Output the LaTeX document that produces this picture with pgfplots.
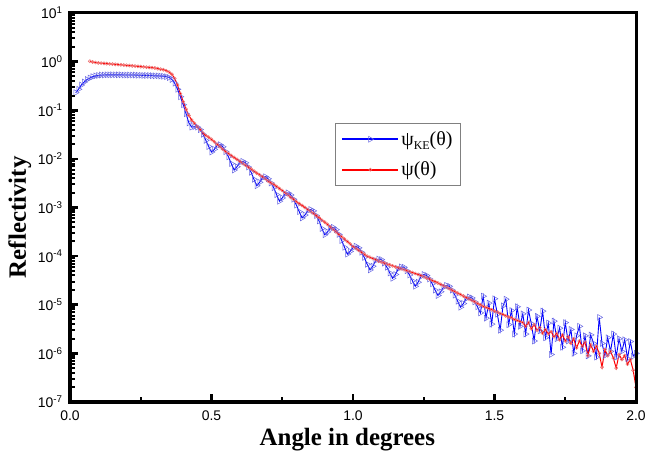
\documentclass[border=0pt]{standalone}
\usepackage{fontspec}
\setmainfont{Liberation Serif}
\newfontfamily\arial{Liberation Sans}
\usepackage{pgfplots}
\pgfplotsset{compat=1.18}
\definecolor{bmark}{RGB}{100,100,225}
\definecolor{rmark}{RGB}{235,110,110}
\begin{document}
\begin{tikzpicture}
\begin{axis}[
 at={(0,0)}, anchor=south west,
 scale only axis, width=566bp, height=389bp,
 xmin=0, xmax=2, ymin=1e-7, ymax=10, ymode=log,
 tick pos=left, tick align=inside,
 xtick={0,0.5,1,1.5,2}, xticklabels={0.0,0.5,1.0,1.5,2.0},
 ytick={1e-7,1e-6,1e-5,1e-4,1e-3,1e-2,1e-1,1,10},
 yticklabels={10\textsuperscript{-7},10\textsuperscript{-6},10\textsuperscript{-5},10\textsuperscript{-4},10\textsuperscript{-3},10\textsuperscript{-2},10\textsuperscript{-1},10\textsuperscript{0},10\textsuperscript{1}},
 major tick length=0bp, minor tick length=0bp,
 ticklabel style={font=\arial\fontsize{14}{16}\selectfont},
 xticklabel style={yshift=-5bp},
 yticklabel style={xshift=-4bp},
 xlabel={Angle in degrees}, ylabel={Reflectivity},
 label style={font=\bfseries\fontsize{25}{29}\selectfont},
 xlabel style={at={(axis description cs:0.49,-0.113)}, anchor=base},
 ylabel style={at={(axis description cs:-0.078,0.475)}, anchor=base},
 legend style={at={(axis description cs:0.468,0.717)}, anchor=north west, draw=gray, line width=0.9bp, font=\fontsize{20}{23}\selectfont, inner xsep=6bp, inner ysep=6bp, row sep=11bp},
 legend cell align=left,
 legend image code/.code={\draw[mark repeat=2,mark phase=2,line width=2bp] plot coordinates {(0bp,0bp)(28bp,0bp)(56bp,0bp)};},
]
\addplot[blue, line width=0.9bp, mark=triangle, mark size=3.4bp, mark options={rotate=-90, draw=bmark, fill=none, line width=0.5bp, solid}] coordinates {
(0.02,0.23)(0.03,0.27)(0.04,0.33)(0.05,0.38)(0.06,0.43)(0.07,0.46)(0.08,0.49)(0.09,0.51)(0.10,0.52)(0.11,0.53)(0.12,0.53)(0.13,0.535)(0.14,0.535)(0.15,0.535)(0.16,0.535)(0.17,0.535)(0.18,0.535)(0.19,0.53)(0.20,0.53)(0.21,0.53)(0.22,0.53)(0.23,0.53)(0.24,0.525)(0.25,0.525)(0.26,0.52)(0.27,0.52)(0.28,0.52)(0.29,0.515)(0.30,0.51)(0.31,0.51)(0.32,0.505)(0.33,0.50)(0.34,0.49)(0.35,0.47)(0.36,0.43)(0.37,0.36)(0.38,0.27)(0.39,0.19)(0.40,0.13)(0.41,0.085)(0.42,0.055)(0.43,0.045)(0.44,0.046)(0.45,0.045)(0.46,0.040)(0.47,0.032)(0.48,0.024)(0.49,0.018)
(0.50,0.0138)(0.51,0.0157)(0.52,0.019)(0.53,0.0196)(0.54,0.0177)(0.55,0.0141)(0.56,0.011)(0.57,0.008)(0.58,0.0059)(0.59,0.0069)(0.60,0.0085)(0.61,0.0089)(0.62,0.0083)(0.63,0.0068)(0.64,0.0053)(0.65,0.0038)(0.66,0.0028)(0.67,0.0033)(0.68,0.0041)(0.69,0.0043)(0.70,0.0039)(0.71,0.0032)(0.72,0.00255)(0.73,0.00184)(0.74,0.00135)(0.75,0.00157)(0.76,0.0019)(0.77,0.0020)(0.78,0.00181)(0.79,0.00148)(0.80,0.00112)(0.81,8.2e-4)(0.82,6.1e-4)(0.83,7.0e-4)(0.84,8.6e-4)(0.85,9.1e-4)(0.86,8.5e-4)(0.87,6.8e-4)(0.88,5.3e-4)(0.89,3.7e-4)(0.90,2.75e-4)(0.91,3.15e-4)(0.92,3.8e-4)(0.93,3.9e-4)(0.94,3.5e-4)(0.95,2.8e-4)(0.96,2.1e-4)(0.97,1.52e-4)(0.98,1.1e-4)(0.99,1.25e-4)
(1.00,1.5e-4)(1.01,1.6e-4)(1.02,1.48e-4)(1.03,1.2e-4)(1.04,9.4e-5)(1.05,6.8e-5)(1.06,5.2e-5)(1.07,6.2e-5)(1.08,8.1e-5)(1.09,8.7e-5)(1.10,8.5e-5)(1.11,7.2e-5)(1.12,5.9e-5)(1.13,4.5e-5)(1.14,3.5e-5)(1.15,4.2e-5)(1.16,5.5e-5)(1.17,6.0e-5)(1.18,5.9e-5)(1.19,5.0e-5)(1.20,4.1e-5)(1.21,3.1e-5)(1.22,2.4e-5)(1.23,2.9e-5)(1.24,3.8e-5)(1.25,4.2e-5)(1.26,4.0e-5)(1.27,3.4e-5)(1.28,2.7e-5)(1.29,2.0e-5)(1.30,1.55e-5)(1.31,1.85e-5)(1.32,2.3e-5)(1.33,2.5e-5)(1.34,2.4e-5)(1.35,2.0e-5)(1.36,1.58e-5)(1.37,1.18e-5)(1.38,8.9e-6)(1.39,1.06e-5)(1.40,1.34e-5)(1.41,1.45e-5)(1.42,1.38e-5)(1.43,1.15e-5)(1.44,9.1e-6)(1.45,6.8e-6)
(1.46,1.5e-5)(1.47,5.3e-6)(1.48,1.08e-5)(1.49,4.0e-6)(1.50,1.33e-5)(1.51,6.4e-6)(1.52,3.0e-6)(1.53,9.5e-6)(1.54,1.3e-5)(1.55,3.9e-6)(1.56,7.6e-6)(1.57,2.5e-6)(1.58,9.1e-6)(1.59,3.6e-6)(1.60,6.5e-6)(1.61,2.5e-6)(1.62,7.8e-6)(1.63,4.1e-6)(1.64,1.8e-6)(1.65,5.8e-6)(1.66,2.9e-6)(1.67,7.4e-6)(1.68,2.1e-6)(1.69,4.2e-6)(1.70,9.5e-7)(1.71,4.6e-6)(1.72,2.0e-6)(1.73,3.3e-6)(1.74,1.34e-6)(1.75,4.3e-6)(1.76,1.8e-6)(1.77,3.1e-6)(1.78,1.0e-6)(1.79,2.3e-6)(1.80,3.6e-6)(1.81,1.13e-6)(1.82,2.3e-6)(1.83,8.9e-7)(1.84,2.4e-6)(1.85,1.6e-6)(1.86,8.4e-7)(1.87,5.5e-6)(1.88,1.6e-6)(1.89,9.0e-7)(1.90,2.1e-6)(1.91,1.1e-6)(1.92,2.5e-6)(1.93,8.4e-7)(1.94,2.0e-6)(1.95,1.1e-6)(1.96,1.9e-6)(1.97,7.8e-7)(1.98,1.75e-6)(1.99,8.8e-7)(2.00,1.0e-6)
};
\addlegendentry{ψ\raisebox{-0.45ex}{\fontsize{12}{13}\selectfont KE}(θ)}
\addplot[red, line width=1bp, mark=o, mark size=1.6bp, mark options={draw=rmark, fill=white, line width=0.5bp, solid}] coordinates {
(0.07,1.02)(0.08,0.98)(0.09,0.96)(0.10,0.94)(0.11,0.93)(0.12,0.92)(0.13,0.91)(0.14,0.90)(0.15,0.89)(0.16,0.88)(0.17,0.87)(0.18,0.86)(0.19,0.85)(0.20,0.84)(0.21,0.83)(0.22,0.82)(0.23,0.81)(0.24,0.80)(0.25,0.79)(0.26,0.78)(0.27,0.77)(0.28,0.76)(0.29,0.75)(0.30,0.74)(0.31,0.72)(0.32,0.70)(0.33,0.68)(0.34,0.65)(0.35,0.61)(0.36,0.55)(0.37,0.45)(0.38,0.33)(0.39,0.22)(0.40,0.15)(0.41,0.105)(0.42,0.078)(0.43,0.063)(0.44,0.054)(0.45,0.046)(0.46,0.040)(0.47,0.034)(0.48,0.030)(0.49,0.028)
(0.50,0.0251)(0.51,0.0224)(0.52,0.020)(0.53,0.0178)(0.54,0.0158)(0.55,0.0141)(0.56,0.0129)(0.57,0.0117)(0.58,0.0107)(0.59,0.0098)(0.60,0.0089)(0.61,0.0081)(0.62,0.0074)(0.63,0.0068)(0.64,0.0062)(0.65,0.0056)(0.66,0.0051)(0.67,0.0047)(0.68,0.0043)(0.69,0.0039)(0.70,0.0035)(0.71,0.0032)(0.72,0.0030)(0.73,0.0027)(0.74,0.00245)(0.75,0.00224)(0.76,0.0020)(0.77,0.00182)(0.78,0.00162)(0.79,0.00148)(0.80,0.00132)(0.81,0.0012)(0.82,0.0011)(0.83,0.0010)(0.84,9.1e-4)(0.85,8.3e-4)(0.86,7.6e-4)(0.87,6.8e-4)(0.88,6.2e-4)(0.89,5.5e-4)(0.90,5.0e-4)(0.91,4.5e-4)(0.92,4.0e-4)(0.93,3.55e-4)(0.94,3.16e-4)(0.95,2.8e-4)(0.96,2.5e-4)(0.97,2.24e-4)(0.98,2.0e-4)(0.99,1.78e-4)
(1.00,1.58e-4)(1.01,1.45e-4)(1.02,1.32e-4)(1.03,1.2e-4)(1.04,1.1e-4)(1.05,1.0e-4)(1.06,9.5e-5)(1.07,8.9e-5)(1.08,8.5e-5)(1.09,7.9e-5)(1.10,7.6e-5)(1.11,7.2e-5)(1.12,6.9e-5)(1.13,6.6e-5)(1.14,6.3e-5)(1.15,6.0e-5)(1.16,5.75e-5)(1.17,5.5e-5)(1.18,5.25e-5)(1.19,5.0e-5)(1.20,4.8e-5)(1.21,4.6e-5)(1.22,4.4e-5)(1.23,4.2e-5)(1.24,4.0e-5)(1.25,3.8e-5)(1.26,3.55e-5)(1.27,3.4e-5)(1.28,3.16e-5)(1.29,3.0e-5)(1.30,2.8e-5)(1.31,2.63e-5)(1.32,2.45e-5)(1.33,2.3e-5)(1.34,2.14e-5)(1.35,2.0e-5)(1.36,1.86e-5)(1.37,1.74e-5)(1.38,1.62e-5)(1.39,1.51e-5)(1.40,1.41e-5)(1.41,1.32e-5)(1.42,1.23e-5)(1.43,1.15e-5)(1.44,1.07e-5)(1.45,1.0e-5)(1.46,9.3e-6)(1.47,8.9e-6)(1.48,8.3e-6)(1.49,7.9e-6)
(1.50,7.4e-6)(1.51,7.1e-6)(1.52,6.6e-6)(1.53,6.3e-6)(1.54,5.9e-6)(1.55,5.6e-6)(1.56,5.4e-6)(1.57,5.0e-6)(1.58,4.8e-6)(1.59,4.5e-6)(1.60,4.3e-6)(1.61,3.6e-6)(1.62,4.3e-6)(1.63,3.2e-6)(1.64,3.9e-6)(1.65,3.0e-6)(1.66,3.4e-6)(1.67,2.6e-6)(1.68,3.1e-6)(1.69,2.5e-6)(1.70,2.8e-6)(1.71,2.2e-6)(1.72,2.6e-6)(1.73,1.9e-6)(1.74,2.4e-6)(1.75,1.8e-6)(1.76,2.2e-6)(1.77,1.6e-6)(1.78,2.0e-6)(1.79,1.3e-6)(1.80,1.8e-6)(1.81,1.4e-6)(1.82,1.7e-6)(1.83,9.0e-7)(1.84,1.5e-6)(1.85,1.1e-6)(1.86,1.4e-6)(1.87,1.0e-6)(1.88,5.2e-7)(1.89,1.2e-6)(1.90,9.0e-7)(1.91,1.1e-6)(1.92,8.0e-7)(1.93,5.0e-7)(1.94,9.5e-7)(1.95,7.5e-7)(1.96,9.0e-7)(1.97,6.0e-7)(1.98,7.5e-7)(1.99,4.5e-7)(2.00,2.0e-7)
};
\addlegendentry{ψ(θ)}
\end{axis}
% axis decorations in canvas units: axis box is (0,0)--(566bp,389bp), one decade = 48.625bp
\foreach \k in {0,...,8}{\draw[black,line width=2.6bp] (0,\k*48.625bp) -- ++(8bp,0);}
\foreach \k in {0,...,7}{\foreach \f in {0.30103,0.47712,0.60206,0.69897,0.77815,0.84510,0.90309,0.95424}{\draw[black,line width=2bp] (0,{(\k+\f)*48.625bp}) -- ++(5bp,0);}}
\foreach \xx in {141.5,283,424.5}{\draw[black,line width=2.6bp] (\xx bp,0) -- ++(0,8bp);}
\foreach \xx in {70.75,212.25,353.75,495.25}{\draw[black,line width=2.2bp] (\xx bp,0) -- ++(0,5bp);}
\draw[line width=3bp, black] (0,0) rectangle (566bp,389bp);
\pgfresetboundingbox
\path (-70bp,-55bp) rectangle (577bp,402bp);
\end{tikzpicture}
\end{document}
